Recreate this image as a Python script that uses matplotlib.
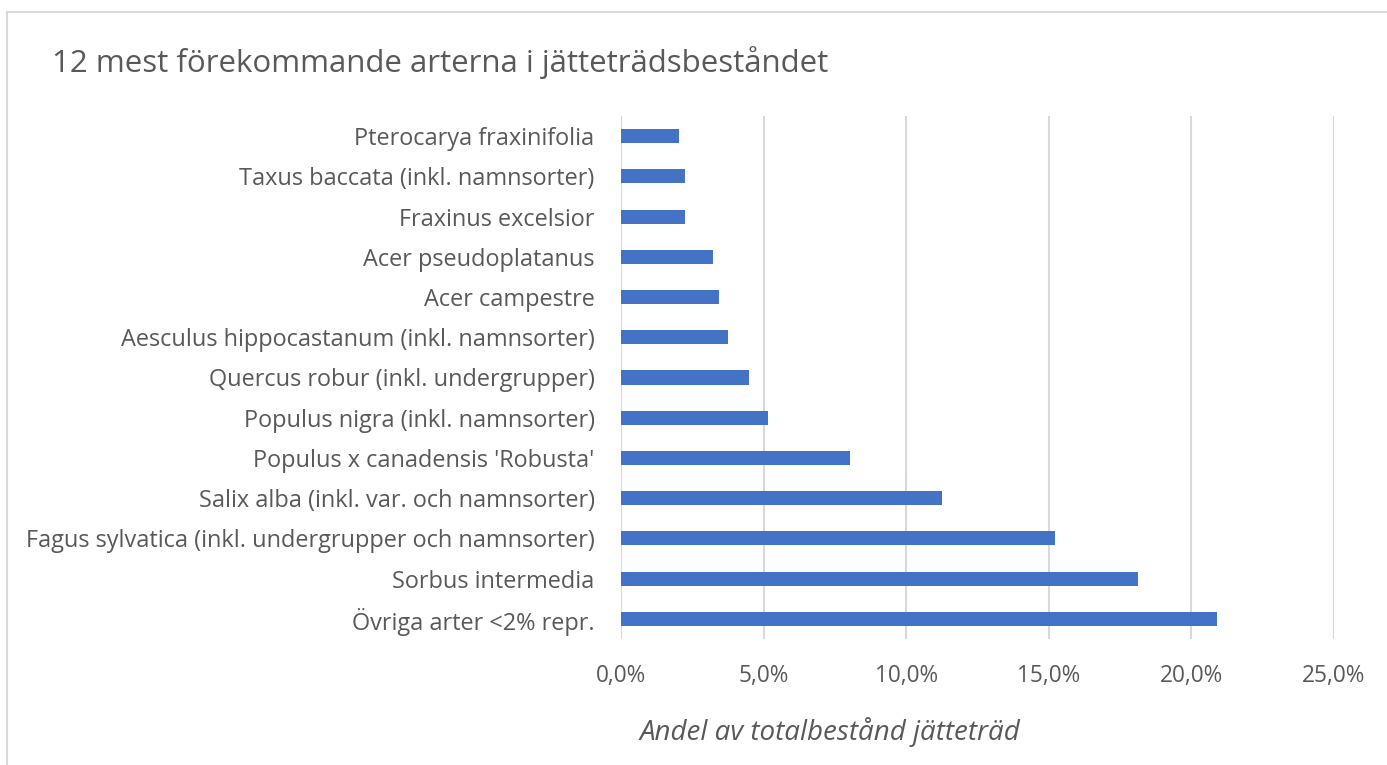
import matplotlib.pyplot as plt
from matplotlib.patches import Rectangle
from matplotlib.ticker import FuncFormatter

# data, listed top to bottom as in the chart
species = ['Pterocarya fraxinifolia',
           'Taxus baccata (inkl. namnsorter)',
           'Fraxinus excelsior',
           'Acer pseudoplatanus',
           'Acer campestre',
           'Aesculus hippocastanum (inkl. namnsorter)',
           'Quercus robur (inkl. undergrupper)',
           'Populus nigra (inkl. namnsorter)',
           "Populus x canadensis 'Robusta'",
           'Salix alba (inkl. var. och namnsorter)',
           'Fagus sylvatica (inkl. undergrupper och namnsorter)',
           'Sorbus intermedia',
           'Övriga arter <2% repr.']
share = [2.02, 2.24, 2.24, 3.23, 3.44, 3.76, 4.49, 5.14, 8.04, 11.25, 15.23, 18.12, 20.9]
xticks = [0, 5, 10, 15, 20, 25]

plt.rcParams['font.family'] = ['Open Sans', 'DejaVu Sans']
txt = '#595959'
grid = '#D9D9D9'

fig = plt.figure(figsize=(13.87, 7.65), dpi=100)
ax = fig.add_axes([0.4477, 0.1647, 0.5141, 0.6837])

ypos = list(range(len(species)))[::-1]
ax.barh(ypos, share, height=0.35, color='#4472C4', zorder=3)

ax.set_xlim(0, 25)
ax.set_ylim(-0.5, len(species) - 0.5)
ax.set_xticks(xticks)
ax.xaxis.set_major_formatter(FuncFormatter(lambda v, p: f'{v:.1f}%'.replace('.', ',')))
ax.set_yticks(ypos)
ax.set_yticklabels(species)
ax.tick_params(axis='x', length=0, pad=18, labelsize=16.3, labelcolor=txt)
ax.tick_params(axis='y', length=0, pad=19, labelsize=16.9, labelcolor=txt)
ax.grid(axis='x', color=grid, linewidth=1.5, zorder=0)
ax.axvline(0, color=grid, linewidth=1.5, zorder=1)
for s in ax.spines.values():
    s.set_visible(False)

fig.text(830 / 1387, 1 - 732 / 765, 'Andel av totalbestånd jätteträd', fontsize=20,
         style='italic', color=txt, ha='center', va='center')

fig.text(52 / 1387, 1 - 63 / 765, '12 mest förekommande arterna i jätteträdsbeståndet',
         fontsize=22.5, color=txt, va='center', ha='left')

# chart frame
fig.add_artist(Rectangle((7 / 1387, -0.1), 1.2, 1.1 - 12 / 765, transform=fig.transFigure,
                         fill=False, edgecolor=grid, linewidth=1.5))

fig.savefig('out.png', dpi=100)
